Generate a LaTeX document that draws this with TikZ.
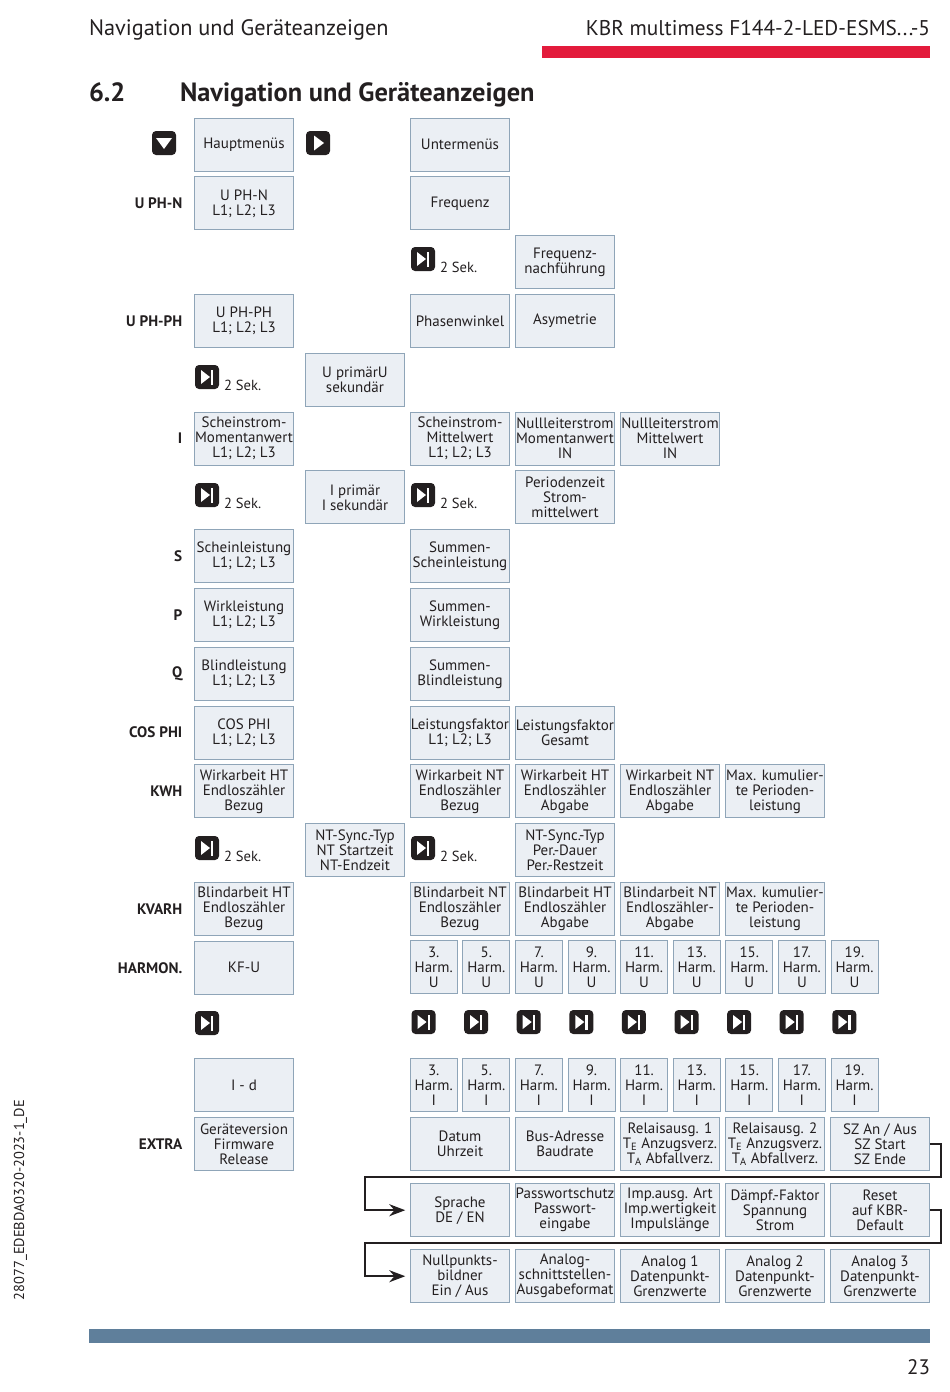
\documentclass[tikz,border=0pt]{standalone}
\usepackage{fontspec}
\setmainfont{PT Sans}
\usepackage{xcolor}
\usetikzlibrary{arrows.meta,positioning}
\definecolor{menufill}{HTML}{EBEFF4}
\definecolor{menuline}{HTML}{8FA5B8}
\definecolor{inkdark}{HTML}{231F20}
\definecolor{barred}{HTML}{E31B3C}
\definecolor{barblue}{HTML}{5F7F9B}
\newcommand{\fs}[1]{\fontsize{#1}{#1}\selectfont}
\tikzset{
	page text/.style={inner sep=0pt,outer sep=0pt,text=inkdark},
	menu/.style={draw=menuline,fill=menufill,line width=1pt,minimum width=99.5,minimum height=53,
		inner sep=0pt,outer sep=0pt,align=center,text=inkdark,
		font=\fontsize{15}{15}\selectfont},
	harm/.style={menu,minimum width=47},
	rowname/.style={page text,font=\fs{15.2}\bfseries},
	sek/.style={page text,font=\fs{14.6}},
	key/.style={fill=inkdark,rounded corners=4pt,minimum size=24,inner sep=0pt,outer sep=0pt},
	downkey/.style={key,path picture={
		\fill[white,sharp corners] (path picture bounding box.center) ++(-8,5) -- ++(16,0) -- ++(-8,-11) -- cycle;}},
	rightkey/.style={key,path picture={
		\fill[white,sharp corners] (path picture bounding box.center) ++(-4,7.5) -- ++(10,-7.5) -- ++(-10,-7.5) -- cycle;}},
	skipkey/.style={key,path picture={
		\fill[white,sharp corners] (path picture bounding box.center) ++(-6,7) -- ++(9,-7) -- ++(-9,-7) -- cycle;
		\fill[white,sharp corners] (path picture bounding box.center) ++(4,7.5) rectangle ++(2.2,-15);}},
	flow/.style={draw=inkdark,line width=2pt,-{Stealth[length=16pt,width=12pt]},shorten >=5pt},
}
\begin{document}
\begin{tikzpicture}[x=1pt,y=1pt,node distance=5.8 and 5.5]
  \useasboundingbox (0,0) rectangle (950,-1392);
  % page furniture
  \node [page text,anchor=base west,font=\fs{22.3}] (headl) at (89,-35) {Navigation und Geräteanzeigen};
  \node [page text,anchor=base east,font=\fs{21.3}] (headr) at (930,-35) {KBR multimess F144-2-LED-ESMS...-5};
  \node [fill=barred,minimum width=388,minimum height=12,inner sep=0pt,outer sep=0pt,anchor=north west] (redbar) at (542,-46) {};
  \node [page text,anchor=base west,font=\fs{26.4}\bfseries] (secno) at (89,-101) {6.2};
  \node [page text,anchor=base west,font=\fs{26.4}\bfseries] (sectitle) at (180,-101) {Navigation und Geräteanzeigen};
  \node [fill=barblue,minimum width=841,minimum height=14,inner sep=0pt,outer sep=0pt,anchor=north west] (bluebar) at (89,-1329) {};
  \node [page text,anchor=base east,font=\fs{21}] (pageno) at (930,-1374) {23};
  \node [page text,rotate=90,anchor=base west,font=\fs{14.4}] (docno) at (24,-1300) {28077\_EDEBDA0320-2023-1\_DE};
  % left column
  \node [menu] (hm) at (244,-144.6) {Hauptmenüs};
  \node [menu,below=of hm] (uphn) {U PH-N\\L1; L2; L3};
  \node [menu,below=64.6 of uphn] (upph) {U PH-PH\\L1; L2; L3};
  \node [menu,below=64.6 of upph] (istrom) {Scheinstrom-\\Momentanwert\\L1; L2; L3};
  \node [menu,below=64.6 of istrom] (slei) {Scheinleistung\\L1; L2; L3};
  \node [menu,below=of slei] (plei) {Wirkleistung\\L1; L2; L3};
  \node [menu,below=of plei] (qlei) {Blindleistung\\L1; L2; L3};
  \node [menu,below=of qlei] (cosphi) {COS PHI\\L1; L2; L3};
  \node [menu,below=of cosphi] (whht) {Wirkarbeit HT\\Endloszähler\\Bezug};
  \node [menu,below=64.6 of whht] (bht) {Blindarbeit HT\\Endloszähler\\Bezug};
  \node [menu,below=of bht] (kfu) {KF-U};
  \node [menu,below=64.6 of kfu] (idd) {I - d};
  \node [menu,below=of idd] (gerv) {Geräteversion\\Firmware\\Release};
  % row names
  \node [rowname,left=12 of uphn] (nuphn) {U PH-N};
  \node [rowname,left=12 of upph] (nupph) {U PH-PH};
  \node [rowname,left=12 of istrom] (nist) {I};
  \node [rowname,left=12 of slei] (nslei) {S};
  \node [rowname,left=12 of plei] (nplei) {P};
  \node [rowname,left=12 of qlei] (nqlei) {Q};
  \node [rowname,left=12 of cosphi] (ncos) {COS PHI};
  \node [rowname,left=12 of whht] (nkwh) {KWH};
  \node [rowname,left=12 of bht] (nkvarh) {KVARH};
  \node [rowname,left=12 of kfu] (nharm) {HARMON.};
  \node [rowname,left=12 of gerv] (nextra) {EXTRA};
  % second column, 2 sek. menus
  \node [menu,below right=5.8 and 11.5 of upph] (uprim) {U primärU\\sekundär};
  \node [menu,below right=5.8 and 11.5 of istrom] (iprim) {I primär\\I sekundär};
  \node [menu,below right=5.8 and 11.5 of whht] (ntsync) {NT-Sync.-Typ\\NT Startzeit\\NT-Endzeit};
  % submenus
  \node [menu,right=116.5 of hm] (um) {Untermenüs};
  \node [menu,right=116.5 of uphn] (freq) {Frequenz};
  \node [menu,below right=5.8 and 5.5 of freq] (fnach) {Frequenz-\\nachführung};
  \node [menu,right=116.5 of upph] (phw) {Phasenwinkel};
  \node [menu,right=of phw] (asym) {Asymetrie};
  \node [menu,right=116.5 of istrom] (imit) {Scheinstrom-\\Mittelwert\\L1; L2; L3};
  \node [menu,right=of imit] (nlmom) {Nullleiterstrom\\Momentanwert\\IN};
  \node [menu,right=of nlmom] (nlmit) {Nullleiterstrom\\Mittelwert\\IN};
  \node [menu,below=of nlmom] (period) {Periodenzeit\\Strom-\\mittelwert};
  \node [menu,right=116.5 of slei] (ssum) {Summen-\\Scheinleistung};
  \node [menu,right=116.5 of plei] (psum) {Summen-\\Wirkleistung};
  \node [menu,right=116.5 of qlei] (qsum) {Summen-\\Blindleistung};
  \node [menu,right=116.5 of cosphi] (lfl) {Leistungsfaktor\\L1; L2; L3};
  \node [menu,right=of lfl] (lfg) {Leistungsfaktor\\Gesamt};
  \node [menu,right=116.5 of whht] (whnt) {Wirkarbeit NT\\Endloszähler\\Bezug};
  \node [menu,right=of whnt] (whhta) {Wirkarbeit HT\\Endloszähler\\Abgabe};
  \node [menu,right=of whhta] (whnta) {Wirkarbeit NT\\Endloszähler\\Abgabe};
  \node [menu,right=of whnta] (maxw) {Max. kumulier-\\te Perioden-\\leistung};
  \node [menu,below=of whhta] (ntper) {NT-Sync.-Typ\\Per.-Dauer\\Per.-Restzeit};
  \node [menu,right=116.5 of bht] (bnt) {Blindarbeit NT\\Endloszähler\\Bezug};
  \node [menu,right=of bnt] (bhta) {Blindarbeit HT\\Endloszähler\\Abgabe};
  \node [menu,right=of bhta] (bnta) {Blindarbeit NT\\Endloszähler-\\Abgabe};
  \node [menu,right=of bnta] (maxb) {Max. kumulier-\\te Perioden-\\leistung};
  % harmonics
  \foreach \n [count=\c from 0] in {3,5,...,19} {
    \node [harm] (hu\n) at (433.7+\c*52.6,-967.2) {\n.\\Harm.\\U};
    \node [skipkey] (hk\n) at (423.5+\c*52.6,-1022) {};
    \node [harm] (hi\n) at (433.7+\c*52.6,-1085.2) {\n.\\Harm.\\I};
  }
  % extra
  \node [menu,right=116.5 of gerv] (datum) {Datum\\Uhrzeit};
  \node [menu,right=of datum] (bus) {Bus-Adresse\\Baudrate};
  \node [menu,right=of bus] (rela) {Relaisausg. 1\\T\textsubscript{E} Anzugsverz.\\T\textsubscript{A} Abfallverz.};
  \node [menu,right=of rela] (relb) {Relaisausg. 2\\T\textsubscript{E} Anzugsverz.\\T\textsubscript{A} Abfallverz.};
  \node [menu,right=of relb] (sz) {SZ An / Aus\\SZ Start\\SZ Ende};
  \node [menu,below=13 of datum] (sprache) {Sprache\\DE / EN};
  \node [menu,right=of sprache] (pass) {Passwortschutz\\Passwort-\\eingabe};
  \node [menu,right=of pass] (imp) {Imp.ausg. Art\\Imp.wertigkeit\\Impulslänge};
  \node [menu,right=of imp] (damp) {Dämpf.-Faktor\\Spannung\\Strom};
  \node [menu,right=of damp] (reset) {Reset\\auf KBR-\\Default};
  \node [menu,below=13 of sprache] (nullp) {Nullpunkts-\\bildner\\Ein / Aus};
  \node [menu,right=of nullp] (analog) {Analog-\\schnittstellen-\\Ausgabeformat};
  \node [menu,right=of analog] (anaa) {Analog 1\\Datenpunkt-\\Grenzwerte};
  \node [menu,right=of anaa] (anab) {Analog 2\\Datenpunkt-\\Grenzwerte};
  \node [menu,right=of anab] (anac) {Analog 3\\Datenpunkt-\\Grenzwerte};
  % keys
  \node [downkey] (kdown) at (164,-143) {};
  \node [rightkey] (kright) at (318,-143) {};
  \node [skipkey] (kf) at (423,-259) {};
  \node [sek,right=5 of kf,yshift=-8] (sf) {2 Sek.};
  \node [skipkey] (ku) at (207,-377) {};
  \node [sek,right=5 of ku,yshift=-8] (su) {2 Sek.};
  \node [skipkey] (ki) at (207,-495) {};
  \node [sek,right=5 of ki,yshift=-8] (si) {2 Sek.};
  \node [skipkey] (kp) at (423,-495) {};
  \node [sek,right=5 of kp,yshift=-8] (sp) {2 Sek.};
  \node [skipkey] (kn) at (207,-848) {};
  \node [sek,right=5 of kn,yshift=-8] (sn) {2 Sek.};
  \node [skipkey] (kt) at (423,-848) {};
  \node [sek,right=5 of kt,yshift=-8] (st) {2 Sek.};
  \node [skipkey] (kh) at (207,-1023) {};
  % connectors
  \coordinate (turna) at (365,-1177);
  \coordinate (turnb) at (365,-1243);
  \draw [flow] (sz.east) -- ++(11,0) |- (turna) |- (sprache.west);
  \draw [flow] (reset.east) -- ++(11,0) |- (turnb) |- (nullp.west);
\end{tikzpicture}
\end{document}
